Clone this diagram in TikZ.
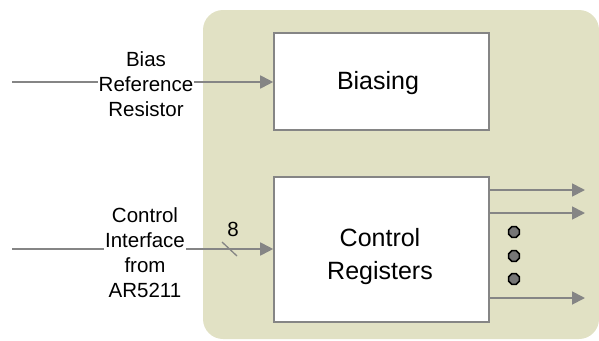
\documentclass[tikz,border=0pt]{standalone}
\usepackage{fontspec}
\setmainfont{Liberation Sans}
\usetikzlibrary{arrows.meta,shapes.geometric}
\definecolor{panel}{HTML}{E1E1C4}
\definecolor{wire}{HTML}{858585}
\definecolor{dotfill}{HTML}{767676}
\begin{document}
\begin{tikzpicture}[x=1pt,y=-1pt,
  block/.style={draw=wire, line width=1.6pt, fill=white, minimum width=215pt,
    inner sep=0pt, font=\fontsize{25}{33}\selectfont, align=center},
  sidelabel/.style={fill=white, inner sep=1pt, align=center,
    font=\fontsize{20.5}{25}\selectfont},
  sig/.style={draw=wire, line width=1.8pt,
    -{Triangle[length=13pt,width=13pt]}, wire},
  dotmark/.style={regular polygon, regular polygon sides=8, minimum size=11.5pt,
    inner sep=0pt, draw=black, line width=1.5pt, fill=dotfill}]
  \useasboundingbox (0,0) rectangle (599,340);
  % chip outline
  \fill[panel, rounded corners=20pt] (203,10) rectangle (599,339);

  % internal blocks
  \node[block, minimum height=97pt] (bias) at (381.5,81.5) {};
  \node[font=\fontsize{25}{33}\selectfont, inner sep=0pt]
    (biastext) at (378,83) {Biasing};
  \node[block, minimum height=145pt] (reg) at (381.5,249.5) {};
  \node[font=\fontsize{25}{33}\selectfont, align=center, inner sep=0pt]
    (regtext) at (380,257) {Control\\Registers};

  % inputs
  \coordinate (biasin) at (12,82);
  \coordinate (ctlin) at (12,249);
  \draw[sig] (biasin) -- (bias.west |- biasin);
  \draw[sig] (ctlin) -- (reg.west |- ctlin);
  \node[sidelabel] (biaslbl) at (146,84) {Bias\\Reference\\Resistor};
  \node[sidelabel] (ctllbl) at (145,253) {Control\\Interface\\from\\AR5211};

  % bus width mark
  \draw[wire, line width=1.3pt] (222,242) -- (237,256);
  \node[font=\fontsize{20.5}{25}\selectfont, inner sep=0pt] (buswidth) at (233,229) {8};

  % outputs
  \coordinate (out1) at (585,190);
  \coordinate (out2) at (585,213);
  \coordinate (out3) at (585,298);
  \draw[sig] (reg.east |- out1) -- (out1);
  \draw[sig] (reg.east |- out2) -- (out2);
  \draw[sig] (reg.east |- out3) -- (out3);

  % ellipsis between outputs
  \node[dotmark] (dot1) at (514,232) {};
  \node[dotmark] (dot2) at (514,256) {};
  \node[dotmark] (dot3) at (514,279) {};
\end{tikzpicture}
\end{document}
